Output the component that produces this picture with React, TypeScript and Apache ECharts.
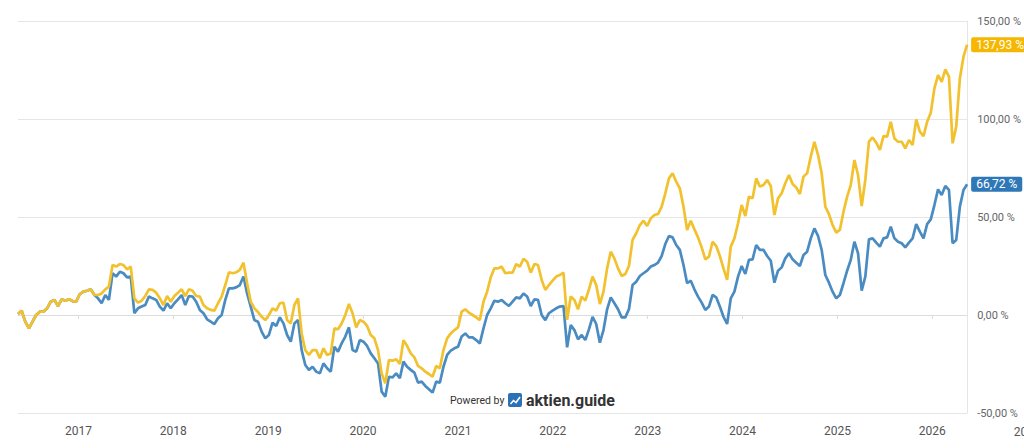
import { useEffect, useRef } from 'react'
import * as echarts from 'echarts'

// Sampling grid of the two performance curves: every 14 days from 13 May 2016
const startDate = '2016-05-13'
const stepDays = 14

const goldValues = [
  0.5, 2.2, -3.4, -6.8, -3.4, 0, 1.7, 1.7, 3.4, 6.8, 7.7, 4.6, 8, 7.3, 8, 7.1, 6.8, 10.7, 11.9, 12.4,
  13.1, 10.2, 10.2, 11, 13.1, 14.5, 25.5, 24.7, 26, 25.5, 23.3, 24.7, 8.5, 6.3, 7.3, 9.7, 13.1, 12.8, 11.4, 8.5,
  5.1, 9.7, 6.8, 9.7, 11.4, 13.1, 9.7, 13.1, 12.4, 9.7, 9.4, 5.1, 3.4, 2.6, 2.2, 6, 9.4, 15.3, 21.8, 21.3,
  21.8, 23, 26.7, 16.2, 6.8, 3.4, 1.5, -0.9, -2.6, 0, 3.4, 2.2, 6, 6.3, -2.6, -4.3, 5.1, 8.5, -9.4, -17.9,
  -20.4, -17.9, -17.9, -22.1, -17, -20.4, -19.6, -6.8, -7.3, -4.3, 0, 5.6, 0.9, -6.3, -2.6, -3.4, -5.6, -10.2, -11.9, -17.9,
  -29.8, -34.9, -23, -23.3, -22.6, -25, -12.8, -15.8, -19.6, -21.6, -26, -27.2, -28.9, -30.1, -31.5, -26, -27.2, -17.9, -11.9, -9.4,
  -7.7, -6.3, 1.7, 2.9, 1.2, 0, -1.2, -2.6, 6.8, 11.9, 19.2, 23.8, 23.8, 24.7, 21.3, 21.6, 21.6, 26, 24.7, 28.7,
  27.2, 21.6, 26, 25.5, 17.9, 12.8, 15.3, 17.5, 19.6, 20.4, 21.6, -2.5, 9.4, 7.7, 2.9, 9.4, 7.3, 13.1, 19.6, 15.3,
  5.6, 11.9, 23.8, 32.3, 28.9, 23.8, 19.9, 20.9, 25, 38.3, 41.7, 45.9, 48.1, 45.4, 49.3, 51, 51.5, 55.3, 62.1, 69.7,
  72.3, 68, 64.6, 55.3, 43.4, 48.1, 43.7, 39.6, 34.5, 28.4, 29.8, 37.4, 35.2, 30.1, 23.8, 17.9, 34.9, 39.1, 46.8, 56.1,
  50.5, 60.4, 59.5, 69.7, 65.5, 66.3, 68.9, 65.8, 51, 59.5, 62.1, 67.2, 71.4, 66.8, 65.1, 61.7, 70.6, 72.3, 80.8, 88.4,
  81.6, 72.3, 55.3, 51.5, 45.9, 42, 43.4, 52.7, 60.4, 66.3, 79.1, 71.4, 55.6, 68.9, 88.4, 90.6, 87.9, 84.2, 91.3, 91,
  98.6, 90.1, 88.4, 88.4, 85, 89.3, 86.7, 99.8, 93.5, 91.3, 98.6, 103.2, 115.6, 122.4, 119, 125.3, 121.6, 87.6, 96.1, 120.7,
  131.8, 137.93
]

const blueValues = [
  0.5, 2.2, -3.4, -6.8, -3.4, 0, 1.7, 1.7, 3.4, 6.8, 7.7, 4.6, 8, 7.3, 8, 7.1, 6.8, 10.7, 11.9, 12.4,
  13.1, 10.2, 8.5, 6, 10.2, 7.7, 21.3, 19.6, 22.1, 21.3, 19.2, 19.6, 0.9, 3.4, 4.3, 5.1, 9.4, 8.5, 7.7, 4.3,
  2.2, 6, 3.4, 6, 8, 10.2, 5.1, 9.7, 9.4, 6.8, 2.6, 0.9, -2.2, -3.4, -4.6, -1.7, 0, 7.7, 13.6, 13.6,
  14.1, 15.3, 19.6, 11, 4.3, -2.6, -3.4, -8.5, -11.9, -10.2, -3.9, -5.6, -1.2, -4.3, -10.2, -13.6, -4.3, -2.6, -17.9, -25.5,
  -28, -26.4, -28.9, -29.8, -24.7, -27.2, -28.9, -16.2, -18.7, -14.5, -11, -6.3, -17.9, -18.7, -12.8, -13.6, -15.8, -19.6, -22.1, -24.7,
  -39.1, -41.7, -31.5, -31.8, -29.8, -32.3, -23.8, -26.4, -28, -29.4, -34.5, -34, -36.2, -37.9, -39.6, -34, -34.5, -26.4, -20.4, -18.2,
  -17, -16.2, -11, -9.4, -11.4, -11.4, -12.8, -14.5, -6.8, 0, 3.4, 7.3, 6.8, 7.7, 6, 4.6, 6.8, 9, 8.5, 11,
  9.4, 4.6, 8, 7.7, 0, -2.6, 0.9, 2.2, 3.4, 4.3, 4.6, -16.5, -5.1, -7.7, -12.4, -10.2, -12.8, -7.3, -0.9, -4.6,
  -14.1, -7.7, 2.9, 9, 6, 2.9, -1.2, -1.2, 2.9, 15.3, 17, 19.9, 21.3, 22.6, 24.7, 25.5, 26.7, 30.1, 36.2, 40.3,
  39.6, 35.7, 33.2, 25.5, 16.2, 17.5, 13.1, 9.4, 6.3, 2.6, 4.3, 10.2, 9, 4.3, -0.9, -4.6, 8.5, 11.9, 19.6, 25,
  20.9, 28.1, 28.4, 35.7, 33.2, 33.2, 30.1, 27.7, 16.5, 22.6, 24.3, 28.9, 31.5, 28.4, 26.7, 25, 30.6, 32.3, 39.1, 44.2,
  40.3, 33.2, 20.4, 16.5, 11.9, 8.5, 10.2, 16.2, 22.6, 28.1, 37.4, 31.5, 12.4, 19.6, 38.6, 39.1, 36.9, 34.9, 39.1, 39.6,
  45.1, 39.1, 37.4, 36.6, 34.5, 36.9, 39.1, 46.4, 42.5, 39.1, 46.4, 48.8, 56.1, 64.1, 61.2, 65.8, 63.8, 36.6, 38.3, 55.3,
  63.8, 66.72
]

const yTicks = [-50, 0, 50, 100, 150]
const extraYearLabel = '2027'

const GOLD = '#f2c12e'
const GOLD_TAG = '#f5b700'
const BLUE = '#4a8bc2'
const BLUE_TAG = '#2f78b7'

const fmt = (v: number) => v.toFixed(2).replace('.', ',') + ' %'

export default function App() {
  const ref = useRef<HTMLDivElement | null>(null)

  useEffect(() => {
    if (!ref.current) return
    const chart = echarts.init(ref.current, null, { renderer: 'svg' })

    const t0 = new Date(startDate + 'T00:00:00Z').getTime()
    const dates = goldValues.map((_, i) => t0 + i * stepDays * 86400000)
    const gold = goldValues.map((v, i) => [dates[i], v])
    const blue = blueValues.map((v, i) => [dates[i], v])

    const year = 365.25 * 86400000
    const lineSeries = (name: string, data: number[][], color: string, tag: string) => ({
      name,
      type: 'line',
      data,
      symbol: 'none',
      lineStyle: { color, width: 2.7 },
      itemStyle: { color },
      endLabel: {
        show: true,
        formatter: (p: any) => fmt(p.value[1]),
        backgroundColor: tag,
        color: '#fff',
        fontFamily: 'Roboto',
        fontSize: 12,
        padding: [2, 5, 1, 5],
        borderRadius: 2,
        distance: 4
      },
      emphasis: { disabled: true }
    })

    chart.setOption({
      animation: false,
      backgroundColor: '#fff',
      textStyle: { fontFamily: 'Roboto' },
      grid: { left: 18, right: 52, top: 21, bottom: 35 },
      xAxis: {
        type: 'time',
        min: dates[0],
        max: dates[dates.length - 1],
        minInterval: year,
        maxInterval: year,
        axisLine: { lineStyle: { color: '#dcdcdc' } },
        axisTick: { show: true, length: 4, lineStyle: { color: '#dcdcdc' } },
        splitLine: { show: false },
        axisLabel: {
          color: '#555',
          fontSize: 12,
          margin: 12,
          formatter: '{yyyy}',
          showMinLabel: false,
          showMaxLabel: false
        }
      },
      yAxis: {
        type: 'value',
        position: 'right',
        min: yTicks[0],
        max: yTicks[yTicks.length - 1],
        interval: 50,
        axisLine: { show: true, lineStyle: { color: '#e6e6e6' } },
        axisTick: { show: false },
        splitLine: { lineStyle: { color: '#e6e6e6' } },
        axisLabel: { color: '#666', fontSize: 11, margin: 10, formatter: (v: number) => fmt(v) }
      },
      series: [
        lineSeries('blue', blue, BLUE, BLUE_TAG),
        lineSeries('gold', gold, GOLD, GOLD_TAG)
      ]
    })

    const x2027 = chart.convertToPixel({ xAxisIndex: 0 }, Date.UTC(2027, 0, 1)) as number
    chart.setOption({
      graphic: [
        {
          type: 'text',
          x: x2027,
          y: 432,
          style: { text: extraYearLabel, fill: '#555', fontSize: 12, fontFamily: 'Roboto', align: 'center', verticalAlign: 'middle' }
        },
        {
          type: 'group',
          left: 450,
          top: 392,
          children: [
            {
              type: 'text',
              x: 0,
              y: 9,
              style: { text: 'Powered by', fill: '#333', fontSize: 10.5, fontFamily: 'Roboto', verticalAlign: 'middle' }
            },
            { type: 'rect', shape: { x: 58, y: 2, width: 14, height: 14, r: 2 }, style: { fill: '#2a72b5' } },
            {
              type: 'polyline',
              shape: { points: [[60.5, 13], [63.5, 9.5], [66, 11.5], [70, 6]] },
              style: { stroke: '#fff', lineWidth: 1.6, fill: null }
            },
            {
              type: 'text',
              x: 76,
              y: 9,
              style: { text: 'aktien.guide', fill: '#333', fontSize: 16, fontWeight: 'bold', fontFamily: 'Roboto', verticalAlign: 'middle' }
            }
          ]
        }
      ]
    })

    return () => chart.dispose()
  }, [])

  return (
    <div
      ref={ref}
      style={{ position: 'fixed', left: 0, top: 0, width: 1024, height: 448 }}
    />
  )
}
